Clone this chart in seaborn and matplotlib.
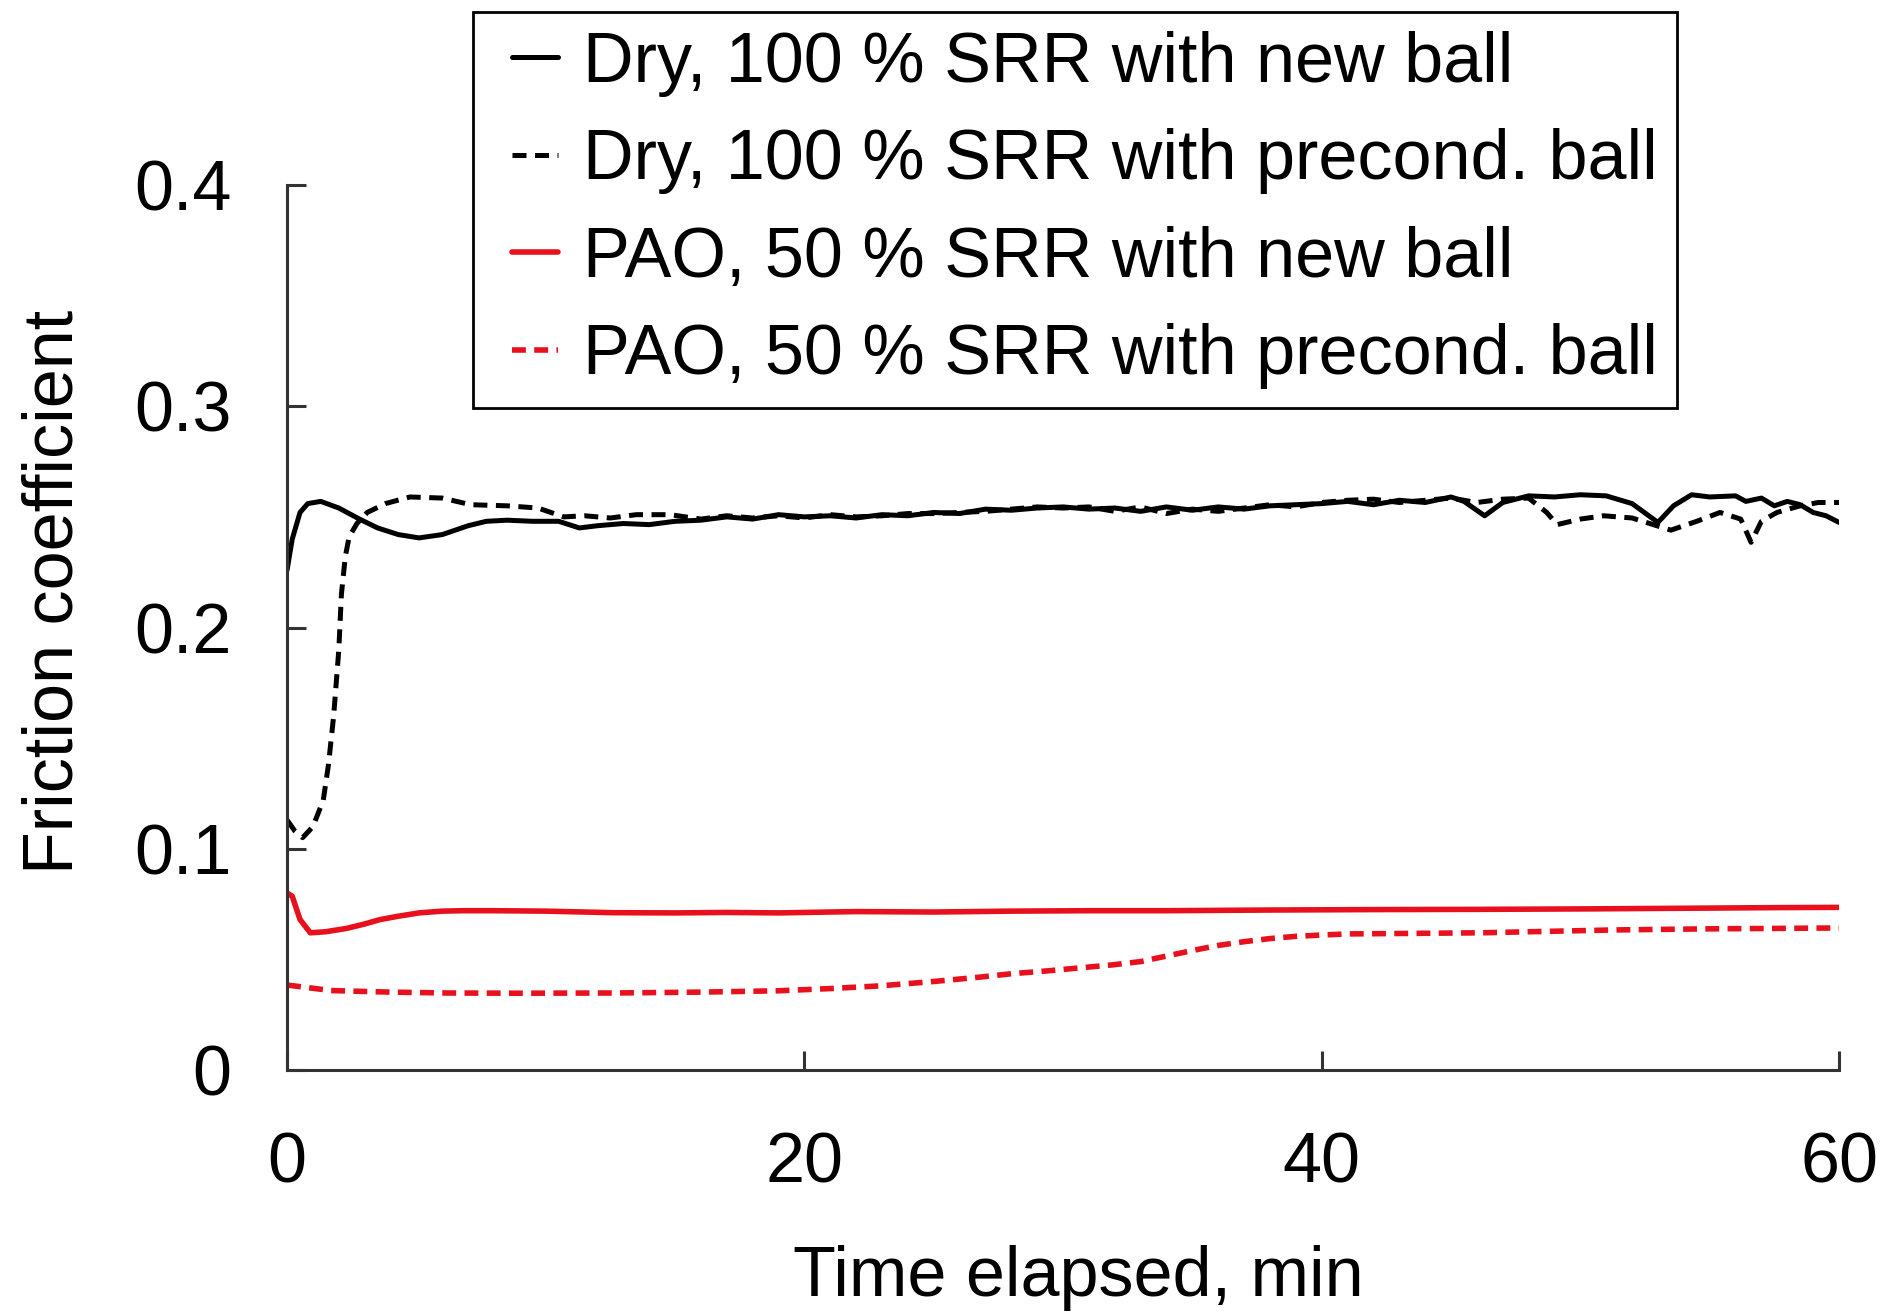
import numpy as np
import pandas as pd
import matplotlib
matplotlib.use("Agg")
import matplotlib.pyplot as plt
from matplotlib.lines import Line2D
from matplotlib.legend_handler import HandlerLine2D
import seaborn as sns

# ---------------- data ----------------
labels = ["Dry, 100 % SRR with new ball",
          "Dry, 100 % SRR with precond. ball",
          "PAO, 50 % SRR with new ball",
          "PAO, 50 % SRR with precond. ball"]

dry_new_t = [0, 0.2, 0.5, 0.8, 1.3, 2.0, 2.8, 3.5, 4.3, 5.1, 6.0, 7.0, 7.7, 8.5, 9.5,
             10.5, 11.3, 12, 13, 14, 15, 16, 17, 18, 19, 20, 21, 22, 23, 24, 25, 26, 27,
             28, 29, 30, 31, 32, 33, 34, 35, 36, 37, 38, 39, 40, 41, 42, 43, 44, 45, 45.5,
             46.3, 47, 48, 49, 50, 51, 52, 53, 53.6, 54.3, 55, 56, 56.4, 57, 57.5, 58, 58.5,
             59, 59.5, 60]
dry_new_mu = [0.226, 0.240, 0.252, 0.256, 0.257, 0.254, 0.249, 0.245, 0.242, 0.2405, 0.242,
              0.246, 0.248, 0.2485, 0.248, 0.248, 0.245, 0.246, 0.247, 0.2465, 0.248, 0.2485,
              0.250, 0.249, 0.251, 0.250, 0.2505, 0.2495, 0.251, 0.2505, 0.252, 0.2515, 0.2535,
              0.253, 0.254, 0.2545, 0.2535, 0.254, 0.2525, 0.2545, 0.253, 0.2545, 0.2535, 0.255,
              0.2555, 0.256, 0.257, 0.2555, 0.2575, 0.2565, 0.259, 0.257, 0.2505, 0.2565, 0.2595,
              0.259, 0.260, 0.2595, 0.256, 0.2475, 0.255, 0.260, 0.259, 0.2595, 0.257, 0.2585,
              0.255, 0.257, 0.2555, 0.252, 0.2505, 0.2475]

dry_pre_t = [0, 0.3, 0.6, 1.0, 1.4, 1.6, 1.8, 2.0, 2.1, 2.25, 2.4, 2.7, 3.1, 3.8, 4.75, 6.0,
             7.1, 8.5, 9.7, 10.7, 11.5, 12.5, 13.5, 14.8, 16, 17, 18, 19, 20, 21, 22, 23, 24,
             25, 26, 27, 28, 29, 30, 31, 32, 33, 34, 35, 36, 37, 38, 39, 40, 41, 42, 43, 44,
             45, 46, 47, 48, 48.7, 49.1, 50, 50.9, 52, 53.5, 54.5, 55.4, 56.2, 56.6, 57, 57.6,
             58.5, 59.2, 60]
dry_pre_mu = [0.113, 0.108, 0.105, 0.110, 0.122, 0.138, 0.160, 0.190, 0.215, 0.232, 0.241,
              0.247, 0.252, 0.256, 0.259, 0.2585, 0.2555, 0.255, 0.254, 0.250, 0.2505, 0.2495,
              0.251, 0.251, 0.249, 0.2505, 0.2495, 0.2505, 0.2495, 0.251, 0.250, 0.2505, 0.2515,
              0.2515, 0.252, 0.2525, 0.2535, 0.2545, 0.254, 0.2545, 0.2525, 0.2545, 0.2515,
              0.2535, 0.2525, 0.254, 0.2555, 0.2545, 0.2565, 0.2575, 0.258, 0.2565, 0.2575,
              0.2585, 0.2565, 0.258, 0.2585, 0.252, 0.2465, 0.249, 0.2505, 0.2495, 0.244, 0.248,
              0.252, 0.249, 0.2385, 0.248, 0.252, 0.255, 0.2565, 0.2565]

pao_new_t = [0, 0.2, 0.5, 0.9, 1.5, 2.3, 3, 3.6, 4.3, 5.1, 6, 6.8, 8, 10, 12.6, 15, 17, 19,
             22, 25, 28, 31, 34, 38, 42, 46, 50, 54, 57.7, 60]
pao_new_mu = [0.080, 0.0785, 0.068, 0.062, 0.0625, 0.064, 0.066, 0.068, 0.0695, 0.071, 0.0718,
              0.072, 0.072, 0.0718, 0.0711, 0.071, 0.0712, 0.071, 0.0716, 0.0714, 0.0718, 0.072,
              0.072, 0.0723, 0.0725, 0.0726, 0.0728, 0.0731, 0.0734, 0.0735]

pao_pre_t = [0, 1.7, 4, 6.2, 9, 12.6, 16, 19, 21, 22.9, 25, 26.8, 28, 29.4, 30.5, 31.9, 33,
             34, 35, 36, 37, 38, 39, 40, 41, 46.1, 51.3, 55, 57.7, 60]
pao_pre_mu = [0.0384, 0.0359, 0.0352, 0.0348, 0.0347, 0.0348, 0.0352, 0.0358, 0.0368, 0.038,
              0.040, 0.042, 0.0435, 0.0448, 0.046, 0.0475, 0.049, 0.0515, 0.054, 0.0563,
              0.058, 0.0594, 0.0604, 0.061, 0.0615, 0.062, 0.0633, 0.0638, 0.064, 0.0642]

x_ticks = [0, 20, 40, 60]
y_ticks = [0, 0.1, 0.2, 0.3, 0.4]
y_tick_labels = ["0", "0.1", "0.2", "0.3", "0.4"]

# ---------------- style ----------------
sns.set_style("ticks")
plt.rcParams["font.family"] = ["Liberation Sans", "DejaVu Sans"]
plt.rcParams["text.color"] = "black"
plt.rcParams["axes.labelcolor"] = "black"

RED = "#e8101c"
FS = 50.5

fig = plt.figure(figsize=(19, 13.14), dpi=100)
ax = fig.add_axes([0.1511, 0.1857, 0.8168, 0.6735])

series = [
    (dry_new_t, dry_new_mu, "black", "-", 3.6),
    (dry_pre_t, dry_pre_mu, "black", (0, (2.8, 1.7)), 3.6),
    (pao_new_t, pao_new_mu, RED, "-", 4.0),
    (pao_pre_t, pao_pre_mu, RED, (0, (2.5, 1.5)), 4.0),
]
for (t, mu, c, ls, lw), lab in zip(series, labels):
    df = pd.DataFrame({"t": t, "mu": mu})
    sns.lineplot(data=df, x="t", y="mu", ax=ax, color=c, linestyle=ls, lw=lw,
                 estimator=None, sort=False, label=lab)

ax.set_xlim(0, 60)
ax.set_ylim(0, 0.4)
ax.set_xticks(x_ticks)
ax.set_yticks(y_ticks)
ax.set_yticklabels(y_tick_labels)
sns.despine(ax=ax)
for s in ["left", "bottom"]:
    ax.spines[s].set_linewidth(2.2)
    ax.spines[s].set_color("#333333")
ax.tick_params(axis="both", direction="in", length=14, width=2.2, color="#333333",
               labelsize=FS, labelcolor="black")
ax.tick_params(axis="x", pad=44)
ax.tick_params(axis="y", pad=40)

ax.set_xlabel("Time elapsed, min", fontsize=FS)
ax.set_ylabel("Friction coefficient", fontsize=FS)
ax.xaxis.set_label_coords(0.51, -0.235)
ax.xaxis.label.set_verticalalignment("center")
ax.yaxis.set_label_coords(-0.150, 0.54)
ax.yaxis.label.set_verticalalignment("center")

leg = ax.legend(loc="upper left", bbox_to_anchor=(0.249, 0.991), bbox_transform=fig.transFigure,
                borderaxespad=0, fontsize=FS, frameon=True, fancybox=False, framealpha=1,
                edgecolor="black", handlelength=0.94, handletextpad=0.36, labelspacing=0.45,
                borderpad=0.27, handler_map={Line2D: HandlerLine2D(xpad=0.29)})
leg.get_frame().set_linewidth(2.0)
for txt in leg.get_texts():
    txt.set_color("black")

fig.savefig("out.png", dpi=100)
